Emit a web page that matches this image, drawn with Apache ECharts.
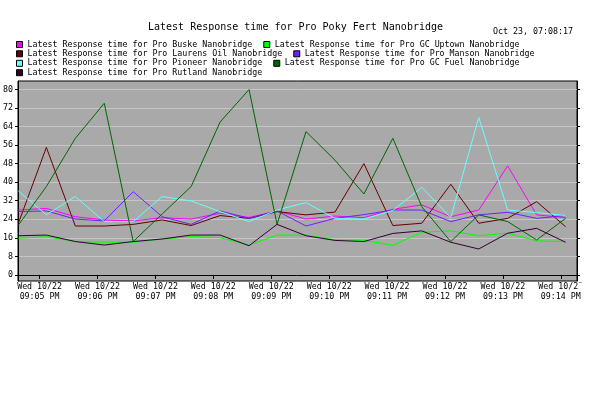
<!DOCTYPE html>
<html>
<head>
<meta charset="utf-8">
<script src="https://cdn.jsdelivr.net/npm/echarts@6/dist/echarts.min.js"></script>
<style>
html,body{margin:0;padding:0;background:#fff;}
#chart{width:616px;height:393px;}
</style>
</head>
<body>
<div id="chart"></div>
<script>
// ---- data ----
const titleText = "Latest Response time for Pro Poky Fert Nanobridge";
const stampText = "Oct 23, 07:08:17";
const times = ["21:04:38","21:05:07","21:05:37","21:06:07","21:06:37","21:07:07","21:07:37","21:08:07","21:08:37","21:09:06",
               "21:09:36","21:10:06","21:10:36","21:11:06","21:11:36","21:12:06","21:12:35","21:13:05","21:13:35","21:14:05"];
const tickTimes = ["21:05","21:06","21:07","21:08","21:09","21:10","21:11","21:12","21:13","21:14"];
const tickLabels = ["Wed 10/22\n09:05 PM","Wed 10/22\n09:06 PM","Wed 10/22\n09:07 PM","Wed 10/22\n09:08 PM","Wed 10/22\n09:09 PM",
                    "Wed 10/22\n09:10 PM","Wed 10/22\n09:11 PM","Wed 10/22\n09:12 PM","Wed 10/22\n09:13 PM","Wed 10/22\n09:14 PM"];
const yTicks = [0, 8, 16, 24, 32, 40, 48, 56, 64, 72, 80];

const seriesNames = [
  "Latest Response time for Pro Buske Nanobridge",
  "Latest Response time for Pro GC Uptown Nanobridge",
  "Latest Response time for Pro Laurens Oil Nanobridge",
  "Latest Response time for Pro Manson Nanobridge",
  "Latest Response time for Pro Pioneer Nanobridge",
  "Latest Response time for Pro GC Fuel Nanobridge",
  "Latest Response time for Pro Rutland Nanobridge"
];
const buske   = [28, 28.7, 25.1, 23.7, 23.3, 24.7, 24.1, 26.6, 24.8, 27.6, 24.1, 25.4, 24.7, 28.3, 30.2, 25.1, 28, 47, 25.9, 24.7];
const uptown  = [15.8, 16.5, 14.4, 14.1, 14.1, 15.5, 16.5, 16.1, 12.9, 17.2, 17.2, 15.1, 14.9, 12.8, 18.4, 19, 16.9, 18, 14.7, 14.4];
const laurens = [22.3, 55, 21.1, 21.1, 21.8, 23.7, 21.3, 25.6, 24.4, 27.3, 25.9, 27.1, 48, 21.3, 22.3, 39.1, 22.3, 24.4, 31.6, 20.8];
const manson  = [27.3, 27.6, 24.1, 23.3, 35.9, 25.1, 21.8, 27.6, 24.4, 27.6, 21.1, 24.4, 26, 28, 28, 23, 25.9, 27, 24.4, 25.6];
const pioneer = [36.2, 25.9, 33.8, 23, 23, 33.8, 31.9, 27.3, 23, 28, 31.2, 24.4, 24.1, 27.8, 37.8, 24.7, 67.9, 28, 26.9, 25.6];
const gcfuel  = [21.5, 38.1, 58.9, 74.0, 14.4, 26.3, 38.1, 65.9, 79.9, 21.8, 61.8, 49.5, 34.9, 58.9, 29.4, 14.4, 25.9, 23, 15.1, 24.4];
const rutland = [16.9, 17.2, 14.4, 12.9, 14.4, 15.5, 17.2, 17.2, 12.6, 21.8, 16.9, 14.9, 14.4, 17.9, 19, 14.1, 11.2, 18, 20.1, 14.1];
const seriesValues = [buske, uptown, laurens, manson, pioneer, gcfuel, rutland];
const seriesColors = ["#ff00ff", "#00ff00", "#660000", "#6f1fff", "#66ffff", "#006600", "#330033"];

// ---- helpers ----
function toSec(t) {
  const p = t.split(":").map(Number);
  return (p[0] - 21) * 3600 + p[1] * 60 + (p[2] || 0);
}
const tickSecs = tickTimes.map(toSec);
const labelMap = {};
tickSecs.forEach((s, i) => { labelMap[s] = tickLabels[i]; });

const FONT = "DejaVu Sans Mono";
const SMALL = 8.3;

const chart = echarts.init(document.getElementById("chart"), null, {renderer: "canvas"});

const legendRows = [[0, 1], [2, 3], [4, 5], [6]];
const legendTops = [40, 49.3, 58.8, 68.2];

const option = {
  animation: false,
  backgroundColor: "#ffffff",
  title: [
    {text: titleText, left: 148, top: 21, padding: 0,
     textStyle: {fontFamily: FONT, fontSize: 10, fontWeight: "normal", color: "#000", lineHeight: 12}},
    {text: stampText, left: 493, top: 27, padding: 0,
     textStyle: {fontFamily: FONT, fontSize: SMALL, fontWeight: "normal", color: "#000", lineHeight: 9}}
  ],
  legend: legendRows.map((row, r) => ({
    data: row.map(i => seriesNames[i]),
    left: 16, top: legendTops[r], padding: 0,
    orient: "horizontal",
    itemGap: 11, itemWidth: 6, itemHeight: 6,
    icon: "rect",
    itemStyle: {borderColor: "#000", borderWidth: 1},
    textStyle: {fontFamily: FONT, fontSize: SMALL, color: "#000", lineHeight: 9},
    selectedMode: false
  })),
  grid: {
    left: 17, right: 39, top: 81, bottom: 112,
    show: true, backgroundColor: "#a9a9a9", borderColor: "#000", borderWidth: 1
  },
  xAxis: {
    type: "value",
    min: 277.6, max: 856.8,
    axisLine: {show: true, lineStyle: {color: "#000", width: 1}},
    axisTick: {show: true, inside: false, length: 4, lineStyle: {color: "#000"}, customValues: tickSecs},
    axisLabel: {
      show: true, margin: 1, customValues: tickSecs,
      fontFamily: FONT, fontSize: SMALL, color: "#000", lineHeight: 10,
      formatter: v => labelMap[Math.round(v)] || ""
    },
    splitLine: {show: false}
  },
  yAxis: [
    {
      type: "value", min: -2.6, max: 83.6, position: "left",
      axisLine: {show: true, lineStyle: {color: "#000", width: 1}},
      axisTick: {show: true, inside: false, length: 3, lineStyle: {color: "#000"}, customValues: yTicks},
      axisLabel: {show: true, margin: 5, customValues: yTicks,
        fontFamily: FONT, fontSize: SMALL, color: "#000"},
      splitLine: {show: true, lineStyle: {color: "#c6c6c6", width: 1}}
    },
    {
      type: "value", min: -2.6, max: 83.6, position: "right",
      axisLine: {show: true, lineStyle: {color: "#000", width: 1}},
      axisTick: {show: true, inside: false, length: 3, lineStyle: {color: "#000"}, customValues: yTicks},
      axisLabel: {show: false},
      splitLine: {show: false}
    }
  ],
  series: seriesNames.map((name, k) => ({
    name: name,
    type: "line",
    yAxisIndex: 0,
    data: times.map((t, i) => [toSec(t), seriesValues[k][i]]),
    showSymbol: false,
    symbol: "none",
    color: seriesColors[k],
    lineStyle: {width: 1, color: seriesColors[k]},
    itemStyle: {color: seriesColors[k]},
    emphasis: {disabled: true},
    z: 2 + k
  })),
  graphic: [
    {type: "rect", left: 0, top: 282.5, z: 100, shape: {width: 17, height: 9}, style: {fill: "#fff"}},
    {type: "rect", left: 579, top: 282.5, z: 100, shape: {width: 37, height: 9}, style: {fill: "#fff"}}
  ]
};
chart.setOption(option);
</script>
</body>
</html>
